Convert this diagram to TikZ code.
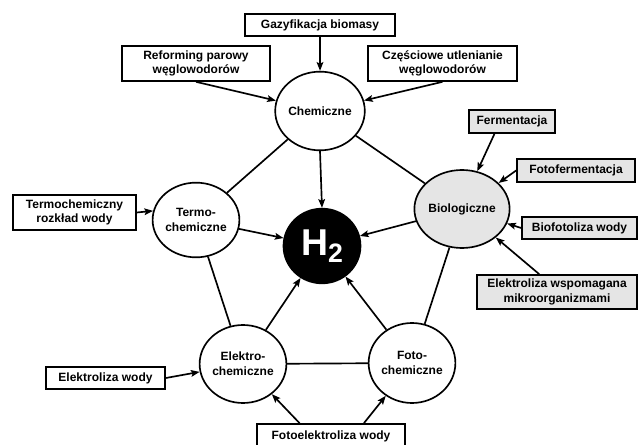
\documentclass[tikz,border=0pt]{standalone}
\usepackage{fontspec}
\setmainfont{Liberation Sans}
\usetikzlibrary{shapes.geometric,arrows.meta,calc}
\begin{document}
\begin{tikzpicture}[x=0.75pt,y=-0.75pt,
  every node/.style={font=\fontsize{9}{11}\selectfont\bfseries, inner sep=0pt, align=center},
  box/.style={draw, line width=1.25pt, rectangle, fill=white},
  gbox/.style={box, fill=black!10},
  circ/.style={draw, line width=1.25pt, ellipse, fill=white},
  link/.style={line width=1.25pt},
  arr/.style={line width=1.25pt, -{Stealth[length=6.5pt,width=5pt,inset=1.2pt]}}]
\useasboundingbox (0,0) rectangle (639,445);
\clip (0,0) rectangle (639,445);
\fill[white] (0,0) rectangle (639,445);
% process nodes
\node[circ, minimum width=57pt, minimum height=59pt] (chem) at (320,111) {Chemiczne};
\node[circ, minimum width=58.5pt, minimum height=56pt] (termo) at (196,220) {Termo-\\chemiczne};
\node[circ, fill=black!10, minimum width=60pt, minimum height=58.5pt] (bio) at (462,209) {Biologiczne};
\node[circ, fill=black, minimum width=57.75pt, minimum height=56pt] (h2) at (322,246)
  {\color{white}\fontsize{28}{30}\selectfont\bfseries H\raisebox{-5pt}{\fontsize{20}{22}\selectfont 2}};
\node[circ, minimum width=59.25pt, minimum height=58.5pt] (elektro) at (243,364) {Elektro-\\chemiczne};
\node[circ, minimum width=59.25pt, minimum height=60pt] (foto) at (412,363) {Foto-\\chemiczne};
% source boxes
\node[box, minimum width=112.5pt, minimum height=16.5pt] (gaz) at (320,25) {Gazyfikacja biomasy};
\node[box, minimum width=111pt, minimum height=26.25pt] (ref) at (196,63.5) {Reforming parowy\\węglowodorów};
\node[box, minimum width=111.75pt, minimum height=26.25pt] (czes) at (442.5,63.5) {Częściowe utlenianie\\węglowodorów};
\node[gbox, minimum width=64.5pt, minimum height=17.25pt] (ferm) at (512,121.5) {Fermentacja};
\node[gbox, minimum width=88.5pt, minimum height=17.25pt] (fotof) at (576,170.5) {Fotofermentacja};
\node[box, minimum width=92.25pt, minimum height=26.25pt] (termbox) at (74.5,212.5) {Termochemiczny\\rozkład wody};
\node[gbox, minimum width=86.25pt, minimum height=16.5pt] (biofot) at (579.5,228) {Biofotoliza wody};
\node[gbox, minimum width=120pt, minimum height=25.5pt] (elwsp) at (557,292) {Elektroliza wspomagana\\mikroorganizmami};
\node[box, minimum width=89.25pt, minimum height=16.5pt] (elwody) at (105.5,378) {Elektroliza wody};
\node[box, minimum width=111pt, minimum height=18pt] (fotoel) at (331,436) {Fotoelektroliza wody};
% links between process nodes
\draw[link] (chem) -- (termo);
\draw[link] (chem) -- (bio);
\draw[link] (termo) -- (elektro);
\draw[link] (bio) -- (foto);
\draw[link] (elektro) -- (foto);
% arrows into H2
\draw[arr] (chem.south) -- (h2.north);
\draw[arr] (termo) -- (h2);
\draw[arr] (bio) -- (h2);
\draw[arr] (elektro) -- (h2);
\draw[arr] (foto) -- (h2);
% arrows from sources
\draw[arr] (gaz.south) -- (chem.north);
\draw[arr] (ref.south) -- (chem);
\draw[arr] (czes.south) -- (chem);
\draw[arr] (termbox.east) -- (termo.168);
\draw[arr] ($(ferm.south west)!0.3!(ferm.south east)$) -- (bio.68);
\draw[arr] (fotof.west) -- (bio);
\draw[arr] (biofot.west) -- (bio);
\draw[arr] ($(elwsp.north west)!0.39!(elwsp.north east)$) -- (bio);
\draw[arr] (elwody.east) -- (elektro);
\draw[arr] ($(fotoel.north west)!0.29!(fotoel.north east)$) -- (elektro);
\draw[arr] ($(fotoel.north west)!0.72!(fotoel.north east)$) -- (foto);
\end{tikzpicture}
\end{document}
